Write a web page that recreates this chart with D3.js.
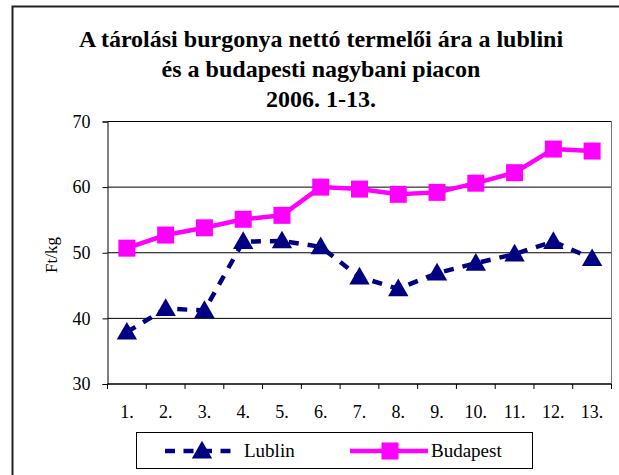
<!DOCTYPE html>
<html>
<head>
<meta charset="utf-8">
<script src="https://cdn.jsdelivr.net/npm/d3@7"></script>
<style>
  body { margin: 0; background: #fff; }
  svg, svg text { font-family: "Liberation Serif", "Times New Roman", serif; }
</style>
</head>
<body>
<div id="chart"></div>
<script>
// chart data
var weeks = ["1.", "2.", "3.", "4.", "5.", "6.", "7.", "8.", "9.", "10.", "11.", "12.", "13."];
var lublin = [37.9, 41.5, 41.2, 51.7, 51.8, 50.9, 46.3, 44.5, 46.9, 48.4, 49.8, 51.7, 49.1];
var budapest = [50.7, 52.7, 53.8, 55.1, 55.7, 60.0, 59.7, 58.9, 59.2, 60.6, 62.2, 65.8, 65.5];
var yTicks = [30, 40, 50, 60, 70];
var titleLines = ["A tárolási burgonya nettó termelői ára a lublini", "és a budapesti nagybani piacon", "2006. 1-13."];

var width = 619, height = 475;
var margin = { top: 121.5, right: 7.5, bottom: 91, left: 107.5 };
var serif = "Liberation Serif, Times New Roman, serif";

var svg = d3.select("#chart").append("svg")
    .attr("width", width)
    .attr("height", height)
    .attr("font-family", serif);

// outer frame
svg.append("rect")
    .attr("x", 12.5).attr("y", 6.5)
    .attr("width", 620).attr("height", 480)
    .attr("fill", "none").attr("stroke", "#222").attr("stroke-width", 2);

// title
svg.append("g").selectAll("text")
    .data(titleLines)
    .enter().append("text")
    .attr("x", 321)
    .attr("y", function (d, i) { return 47 + i * 30; })
    .attr("text-anchor", "middle")
    .attr("font-size", "24px")
    .attr("font-weight", "bold")
    .attr("font-family", serif)
    .text(function (d) { return d; });

var x = d3.scaleBand().domain(weeks).range([margin.left, width - margin.right]);
var y = d3.scaleLinear().domain([30, 70]).range([height - margin.bottom, margin.top]);

// gridlines
svg.append("g").selectAll("line")
    .data(yTicks)
    .enter().append("line")
    .attr("x1", margin.left).attr("x2", width - margin.right)
    .attr("y1", function (d) { return y(d); })
    .attr("y2", function (d) { return y(d); })
    .attr("stroke", "#000").attr("stroke-width", 1);

// plot border right side
svg.append("line")
    .attr("x1", width - margin.right).attr("x2", width - margin.right)
    .attr("y1", margin.top).attr("y2", height - margin.bottom)
    .attr("stroke", "#777").attr("stroke-width", 1);

// y axis
var yAxis = svg.append("g")
    .attr("transform", "translate(" + margin.left + ",0)")
    .call(d3.axisLeft(y).tickValues(yTicks).tickSize(5).tickPadding(12));
yAxis.attr("font-family", serif);
yAxis.selectAll("text").attr("font-size", "18px").attr("font-family", serif);
yAxis.selectAll("path, line").attr("stroke", "#000");

// x axis with ticks between categories
var xAxis = svg.append("g")
    .attr("transform", "translate(0," + y(30) + ")");
xAxis.append("line")
    .attr("x1", margin.left).attr("x2", width - margin.right)
    .attr("stroke", "#000");
xAxis.selectAll("line.tick")
    .data(weeks.concat(["end"]))
    .enter().append("line")
    .attr("class", "tick")
    .attr("x1", function (d, i) { return margin.left + i * x.bandwidth(); })
    .attr("x2", function (d, i) { return margin.left + i * x.bandwidth(); })
    .attr("y1", 0).attr("y2", 5)
    .attr("stroke", "#000");
xAxis.selectAll("text")
    .data(weeks)
    .enter().append("text")
    .attr("x", function (d) { return x(d) + x.bandwidth() / 2; })
    .attr("y", 34)
    .attr("text-anchor", "middle")
    .attr("font-size", "18px")
    .attr("font-family", serif)
    .text(function (d) { return d; });

// y axis label
svg.append("text")
    .attr("transform", "translate(57,255) rotate(-90)")
    .attr("text-anchor", "middle")
    .attr("font-size", "17px")
    .attr("font-family", serif)
    .text("Ft/kg");

var cx = function (d, i) { return x(weeks[i]) + x.bandwidth() / 2; };
var line = d3.line().x(cx).y(function (d) { return y(d); });

var tri = d3.symbol().type(d3.symbolTriangle).size(180);
var sq = 17;

// Lublin series
svg.append("path")
    .datum(lublin)
    .attr("d", line)
    .attr("fill", "none")
    .attr("stroke", "#000080")
    .attr("stroke-width", 4.5)
    .attr("stroke-dasharray", "10,9");
svg.append("g").selectAll("path")
    .data(lublin)
    .enter().append("path")
    .attr("d", tri)
    .attr("transform", function (d, i) { return "translate(" + cx(d, i) + "," + (y(d) + 1.5) + ")"; })
    .attr("fill", "#000080");

// Budapest series
svg.append("path")
    .datum(budapest)
    .attr("d", line)
    .attr("fill", "none")
    .attr("stroke", "#ff00ff")
    .attr("stroke-width", 4.5);
svg.append("g").selectAll("rect")
    .data(budapest)
    .enter().append("rect")
    .attr("x", function (d, i) { return cx(d, i) - sq / 2; })
    .attr("y", function (d) { return y(d) - sq / 2; })
    .attr("width", sq).attr("height", sq)
    .attr("fill", "#ff00ff");

// legend
var legend = svg.append("g");
legend.append("rect")
    .attr("x", 136.5).attr("y", 432.5)
    .attr("width", 396).attr("height", 36)
    .attr("fill", "#fff").attr("stroke", "#000");
legend.append("line")
    .attr("x1", 165).attr("x2", 235).attr("y1", 451).attr("y2", 451)
    .attr("stroke", "#000080").attr("stroke-width", 4.5)
    .attr("stroke-dasharray", "10,8.5");
legend.append("path")
    .attr("d", tri)
    .attr("transform", "translate(202,452.5)")
    .attr("fill", "#000080");
legend.append("text")
    .attr("x", 244).attr("y", 457)
    .attr("font-size", "19px")
    .attr("font-family", serif)
    .text("Lublin");
legend.append("line")
    .attr("x1", 350).attr("x2", 428).attr("y1", 451).attr("y2", 451)
    .attr("stroke", "#ff00ff").attr("stroke-width", 4.5);
legend.append("rect")
    .attr("x", 390 - sq / 2).attr("y", 451 - sq / 2)
    .attr("width", sq).attr("height", sq)
    .attr("fill", "#ff00ff");
legend.append("text")
    .attr("x", 431).attr("y", 457)
    .attr("font-size", "19px")
    .attr("font-family", serif)
    .text("Budapest");
</script>
</body>
</html>
